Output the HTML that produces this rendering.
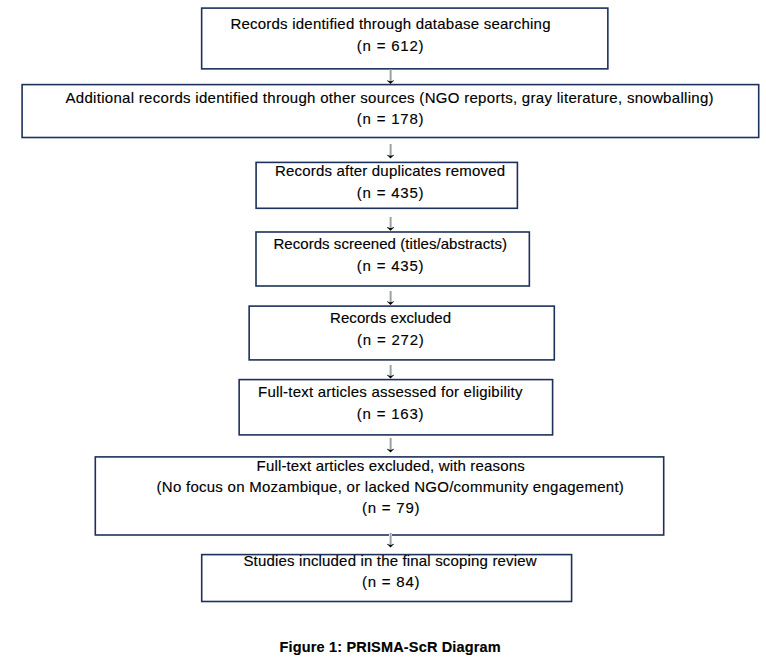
<!DOCTYPE html>
<html><head><meta charset="utf-8"><style>
html,body{margin:0;padding:0;background:#fff;}
body{width:766px;height:667px;position:relative;overflow:hidden;}
svg{position:absolute;left:0;top:0;}
.t{position:absolute;white-space:nowrap;font-family:"Liberation Sans",sans-serif;line-height:20px;color:#000;-webkit-text-stroke:0.15px #000;}
</style></head><body>
<svg width="766" height="667" viewBox="0 0 766 667">
<rect x="201.65" y="8.10" width="406.20" height="60.75" fill="none" stroke="#1d315b" stroke-width="1.6"/>
<rect x="22.10" y="84.60" width="736.60" height="52.90" fill="none" stroke="#1d315b" stroke-width="1.6"/>
<rect x="256.10" y="162.40" width="261.30" height="45.90" fill="none" stroke="#1d315b" stroke-width="1.6"/>
<rect x="256.00" y="232.00" width="273.35" height="54.00" fill="none" stroke="#1d315b" stroke-width="1.6"/>
<rect x="249.15" y="306.10" width="305.15" height="53.80" fill="none" stroke="#1d315b" stroke-width="1.6"/>
<rect x="239.15" y="379.60" width="313.45" height="55.30" fill="none" stroke="#1d315b" stroke-width="1.6"/>
<rect x="95.30" y="456.90" width="568.40" height="78.10" fill="none" stroke="#1d315b" stroke-width="1.6"/>
<rect x="201.70" y="554.60" width="369.90" height="46.90" fill="none" stroke="#1d315b" stroke-width="1.6"/>
<rect x="389" y="69.70" width="1" height="11.20" fill="#fcd5a0"/>
<rect x="390" y="69.70" width="1" height="12.20" fill="#98a2a2"/>
<rect x="391" y="69.70" width="1" height="11.20" fill="#a3cdf5"/>
<path d="M386.80,80.50 L387.20,80.20 L390.50,81.40 L393.80,80.20 L394.20,80.50 L390.50,83.90 Z" fill="#222"/>
<path d="M389.00,81.30 L392.00,81.30 L390.50,83.60 Z" fill="#000"/>
<rect x="389" y="144.00" width="1" height="11.40" fill="#fcd5a0"/>
<rect x="390" y="144.00" width="1" height="12.40" fill="#98a2a2"/>
<rect x="391" y="144.00" width="1" height="11.40" fill="#a3cdf5"/>
<path d="M386.80,155.00 L387.20,154.70 L390.50,155.90 L393.80,154.70 L394.20,155.00 L390.50,158.40 Z" fill="#222"/>
<path d="M389.00,155.80 L392.00,155.80 L390.50,158.10 Z" fill="#000"/>
<rect x="389" y="217.00" width="1" height="10.80" fill="#fcd5a0"/>
<rect x="390" y="217.00" width="1" height="11.80" fill="#98a2a2"/>
<rect x="391" y="217.00" width="1" height="10.80" fill="#a3cdf5"/>
<path d="M386.80,227.40 L387.20,227.10 L390.50,228.30 L393.80,227.10 L394.20,227.40 L390.50,230.80 Z" fill="#222"/>
<path d="M389.00,228.20 L392.00,228.20 L390.50,230.50 Z" fill="#000"/>
<rect x="389" y="291.00" width="1" height="11.00" fill="#fcd5a0"/>
<rect x="390" y="291.00" width="1" height="12.00" fill="#98a2a2"/>
<rect x="391" y="291.00" width="1" height="11.00" fill="#a3cdf5"/>
<path d="M386.80,301.60 L387.20,301.30 L390.50,302.50 L393.80,301.30 L394.20,301.60 L390.50,305.00 Z" fill="#222"/>
<path d="M389.00,302.40 L392.00,302.40 L390.50,304.70 Z" fill="#000"/>
<rect x="389" y="365.00" width="1" height="10.50" fill="#fcd5a0"/>
<rect x="390" y="365.00" width="1" height="11.50" fill="#98a2a2"/>
<rect x="391" y="365.00" width="1" height="10.50" fill="#a3cdf5"/>
<path d="M386.80,375.10 L387.20,374.80 L390.50,376.00 L393.80,374.80 L394.20,375.10 L390.50,378.50 Z" fill="#222"/>
<path d="M389.00,375.90 L392.00,375.90 L390.50,378.20 Z" fill="#000"/>
<rect x="389" y="438.00" width="1" height="11.50" fill="#fcd5a0"/>
<rect x="390" y="438.00" width="1" height="12.50" fill="#98a2a2"/>
<rect x="391" y="438.00" width="1" height="11.50" fill="#a3cdf5"/>
<path d="M386.80,449.10 L387.20,448.80 L390.50,450.00 L393.80,448.80 L394.20,449.10 L390.50,452.50 Z" fill="#222"/>
<path d="M389.00,449.90 L392.00,449.90 L390.50,452.20 Z" fill="#000"/>
<rect x="389" y="533.00" width="1" height="11.50" fill="#fcd5a0"/>
<rect x="390" y="533.00" width="1" height="12.50" fill="#98a2a2"/>
<rect x="391" y="533.00" width="1" height="11.50" fill="#a3cdf5"/>
<path d="M386.80,544.10 L387.20,543.80 L390.50,545.00 L393.80,543.80 L394.20,544.10 L390.50,547.50 Z" fill="#222"/>
<path d="M389.00,544.90 L392.00,544.90 L390.50,547.20 Z" fill="#000"/>
</svg>
<div class="t" style="left:230.40px;top:13.60px;letter-spacing:0.225px;font-size:15px;font-weight:400">Records identified through database searching</div>
<div class="t" style="left:356.80px;top:35.70px;letter-spacing:0.788px;font-size:15px;font-weight:400">(n = 612)</div>
<div class="t" style="left:65.50px;top:87.60px;letter-spacing:0.295px;font-size:15px;font-weight:400">Additional records identified through other sources (NGO reports, gray literature, snowballing)</div>
<div class="t" style="left:356.80px;top:108.60px;letter-spacing:0.788px;font-size:15px;font-weight:400">(n = 178)</div>
<div class="t" style="left:275.00px;top:160.50px;letter-spacing:0.187px;font-size:15px;font-weight:400">Records after duplicates removed</div>
<div class="t" style="left:356.80px;top:182.60px;letter-spacing:0.788px;font-size:15px;font-weight:400">(n = 435)</div>
<div class="t" style="left:273.40px;top:234.40px;letter-spacing:0.056px;font-size:15px;font-weight:400">Records screened (titles/abstracts)</div>
<div class="t" style="left:356.80px;top:255.50px;letter-spacing:0.788px;font-size:15px;font-weight:400">(n = 435)</div>
<div class="t" style="left:330.00px;top:307.60px;letter-spacing:0.067px;font-size:15px;font-weight:400">Records excluded</div>
<div class="t" style="left:357.00px;top:329.70px;letter-spacing:0.800px;font-size:15px;font-weight:400">(n = 272)</div>
<div class="t" style="left:258.00px;top:381.70px;letter-spacing:0.224px;font-size:15px;font-weight:400">Full-text articles assessed for eligibility</div>
<div class="t" style="left:356.80px;top:403.60px;letter-spacing:0.788px;font-size:15px;font-weight:400">(n = 163)</div>
<div class="t" style="left:256.60px;top:455.50px;letter-spacing:0.157px;font-size:15px;font-weight:400">Full-text articles excluded, with reasons</div>
<div class="t" style="left:156.60px;top:476.50px;letter-spacing:0.261px;font-size:15px;font-weight:400">(No focus on Mozambique, or lacked NGO/community engagement)</div>
<div class="t" style="left:362.00px;top:498.30px;letter-spacing:0.771px;font-size:15px;font-weight:400">(n = 79)</div>
<div class="t" style="left:243.40px;top:550.60px;letter-spacing:0.167px;font-size:15px;font-weight:400">Studies included in the final scoping review</div>
<div class="t" style="left:362.00px;top:571.50px;letter-spacing:0.771px;font-size:15px;font-weight:400">(n = 84)</div>
<div class="t" style="left:279.50px;top:636.58px;letter-spacing:0.167px;font-size:14.5px;font-weight:700">Figure 1: PRISMA-ScR Diagram</div>
</body></html>
